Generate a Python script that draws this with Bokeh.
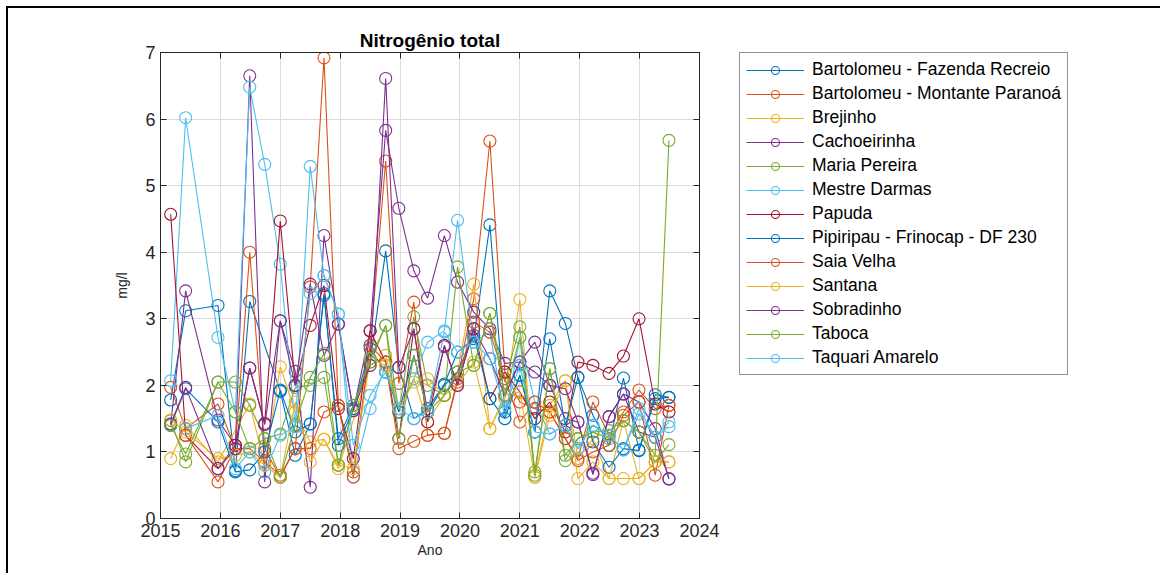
from bokeh.plotting import figure
from bokeh.models import Legend, LegendItem, LinearAxis, FixedTicker, Range1d
from bokeh.layouts import row
from bokeh.embed import file_html
from bokeh.resources import INLINE

# Datas de coleta (anos decimais)
datas = [2015.17, 2015.42, 2015.96, 2016.25, 2016.49, 2016.74, 2017.0, 2017.25, 2017.5, 2017.73,
         2017.97, 2018.22, 2018.5, 2018.76, 2018.98, 2019.23, 2019.46, 2019.74, 2019.96, 2020.23,
         2020.5, 2020.75, 2021.0, 2021.25, 2021.5, 2021.76, 2021.97, 2022.22, 2022.49, 2022.73,
         2022.99, 2023.26, 2023.49]

nomes = ["Bartolomeu - Fazenda Recreio", "Bartolomeu - Montante Paranoá", "Brejinho", "Cachoeirinha",
         "Maria Pereira", "Mestre Darmas", "Papuda", "Pipiripau - Frinocap - DF 230", "Saia Velha",
         "Santana", "Sobradinho", "Taboca", "Taquari Amarelo"]

cores = ["#0072BD", "#D95319", "#EDB120", "#7E2F8E", "#77AC30", "#4DBEEE", "#A2142F",
         "#0072BD", "#D95319", "#EDB120", "#7E2F8E", "#77AC30", "#4DBEEE"]

fazenda_recreio = [1.78, 3.12, 3.20, 0.72, 3.26, None, 1.91, 0.95, 1.42, 3.35, 1.20, 1.70, 2.35, 4.02, 2.27, 1.50, 1.65,
                   2.02, 2.50, 2.70, 4.41, 1.60, 2.15, 1.30, 3.42, 2.93, 2.12, 1.55, 1.10, 2.11, 1.03, 1.86, 1.82]
montante_paranoa = [1.97, 1.35, 1.72, 1.05, 4.00, 1.05, 0.62, 1.05, 3.48, 6.92, 1.70, 0.70, 2.60, 5.37, 2.03, 3.25, 1.25,
                    1.28, 2.10, 3.30, 5.67, 2.20, 1.75, 1.65, 1.60, 1.20, 0.90, 1.75, 1.25, 1.60, 1.93, 1.65, 1.70]
brejinho = [0.90, 1.40, 0.85, None, 1.72, 0.80, 2.28, 1.60, 1.15, 1.19, 0.75, None, 2.30, 2.45, 1.65, 2.10, 1.45,
            1.85, 2.20, 3.52, 1.35, 1.80, 3.29, 0.62, 1.70, 2.07, 0.90, 1.20, 0.60, 1.47, 0.60, 0.85, 0.85]
cachoeirinha = [1.42, 3.42, 1.48, 1.10, 6.65, 0.55, 2.97, 2.21, 0.47, 4.25, 2.92, 1.62, 2.82, 5.83, 4.66, 3.72, 3.31,
                4.25, 3.55, 3.10, 2.85, 2.33, 2.35, 2.65, 2.00, 1.50, 1.45, 0.66, 1.53, 1.87, 1.75, 1.35, 0.59]
maria_pereira = [1.47, 0.85, 2.05, 2.05, 1.70, 1.20, 1.27, 1.97, 2.00, 2.12, 0.80, 1.65, 2.35, 2.90, 1.60, 3.03, 2.00,
                 1.85, 3.78, 2.30, 3.08, 2.05, 2.88, 0.70, 2.25, 0.87, 1.20, 1.30, 1.32, 1.47, 1.30, 0.85, 1.11]
mestre_darmas = [2.07, 6.02, 2.72, 1.60, 6.48, 5.32, 3.82, 1.38, 5.29, 3.65, 3.07, 0.63, 1.65, 2.30, 1.65, 2.10, 2.65,
                 2.82, 4.48, 2.65, 2.80, 1.50, 2.72, 1.75, 1.27, 1.40, 1.05, 1.40, 1.25, 1.03, 1.57, 1.22, 1.45]
papuda = [4.57, 1.25, 0.75, 1.10, 2.26, 1.43, 4.47, 2.00, 2.90, 3.50, 1.65, 0.90, 2.82, 2.35, 1.20, 2.85, 1.45,
          2.60, 2.00, 2.85, 1.80, 2.20, 1.90, 1.50, 1.75, 1.30, 2.35, 2.30, 2.18, 2.44, 3.00, 1.72, 1.60]
pipiripau = [1.40, 1.95, 1.45, 0.70, 0.73, 1.00, 1.93, 1.30, 1.42, 3.38, 1.10, 1.65, 2.55, 2.20, 1.60, 2.45, 1.60,
             2.00, 2.20, 2.75, 1.80, 1.50, 2.15, 1.30, 2.70, 1.40, 2.12, 1.15, 0.77, 1.05, 1.02, 1.80, 1.82]
saia_velha = [None, 1.25, 0.55, 1.05, 1.05, 0.85, 0.65, 1.05, 1.05, 1.60, 1.70, 0.62, 2.60, 2.35, 1.05, 1.16, 1.25,
              1.28, 2.05, 2.95, 2.80, 2.10, 1.45, 1.75, 1.60, 1.20, 0.87, 1.00, 1.10, 1.55, 1.75, 0.65, 1.70]
santana = [1.48, 1.30, 0.90, 0.95, 1.00, 0.80, 0.62, 1.75, 0.85, 1.19, 0.80, 0.75, 2.40, 2.30, 1.65, 2.05, 2.10,
           1.85, 2.00, 2.35, 1.35, 1.85, 1.90, 0.62, 1.55, 2.07, 0.60, 0.85, 0.60, 0.60, 0.60, 0.85, 0.85]
sobradinho = [1.42, 1.97, 0.75, 1.05, 2.26, 1.41, 2.97, 2.00, 3.52, 2.45, 2.92, 1.62, 2.30, 6.61, 2.27, 2.85, 1.60,
              2.58, 2.00, 2.85, 2.40, 1.85, 2.35, 2.20, 2.00, 1.95, 1.45, 0.68, 1.53, 1.87, 1.30, 1.22, 0.60]
taboca = [1.40, 0.97, 2.05, 1.60, 1.05, 1.20, 0.62, 1.41, 2.12, 2.48, 0.80, 1.70, 2.40, 2.90, 1.20, 2.45, 1.60,
          1.85, 2.20, 2.30, 3.08, 1.85, 2.72, 0.65, 2.25, 0.95, 1.20, 1.30, 1.20, 1.47, 1.30, 0.95, 5.68]
taquari_amarelo = [None, 1.35, 1.55, 0.75, 1.00, 0.70, 1.25, 1.38, 3.38, 3.65, 3.07, 1.10, 1.85, 2.20, 1.65, 1.50, 1.60,
                   2.80, 2.50, 2.65, 2.40, 1.65, 2.30, 1.30, 1.27, 1.40, 1.05, 1.40, 1.25, 1.03, 1.65, 1.22, 1.38]

series = [fazenda_recreio, montante_paranoa, brejinho, cachoeirinha, maria_pereira, mestre_darmas, papuda,
          pipiripau, saia_velha, santana, sobradinho, taboca, taquari_amarelo]

anos_ticks = [2015, 2016, 2017, 2018, 2019, 2020, 2021, 2022, 2023, 2024]
valores_ticks = [0, 1, 2, 3, 4, 5, 6, 7]

FONT = "Liberation Sans"
AXC = "#262626"

p = figure(width=712, height=565, x_range=Range1d(2015, 2024), y_range=Range1d(0, 7),
           output_backend="svg", toolbar_location=None,
           min_border_left=152, min_border_top=44, min_border_right=21, min_border_bottom=55)

p.title.text = "Nitrogênio total"
p.title.align = "center"
p.title.text_font = FONT
p.title.text_font_size = "19px"
p.title.text_font_style = "bold"
p.title.text_color = "#000000"
p.title.offset = 0
p.title.standoff = 4

p.outline_line_color = AXC
p.outline_line_width = 1

for ax in (p.xaxis[0], p.yaxis[0]):
    ax.major_tick_in = 6
    ax.major_tick_out = 0
    ax.minor_tick_in = 0
    ax.minor_tick_out = 0
    ax.axis_line_color = AXC
    ax.major_tick_line_color = AXC
    ax.major_label_text_font = FONT
    ax.major_label_text_font_size = "18px"
    ax.major_label_text_color = AXC
    ax.axis_label_text_font = FONT
    ax.axis_label_text_font_size = "14px"
    ax.axis_label_text_font_style = "normal"
    ax.axis_label_text_color = AXC

p.xaxis[0].ticker = FixedTicker(ticks=anos_ticks)
p.yaxis[0].ticker = FixedTicker(ticks=valores_ticks)
p.xaxis[0].axis_label = "Ano"
p.yaxis[0].axis_label = "mg/l"
p.xaxis[0].major_label_standoff = 5
p.xaxis[0].axis_label_standoff = 2
p.yaxis[0].major_label_standoff = 5
p.yaxis[0].axis_label_standoff = 12

top_ax = LinearAxis(ticker=FixedTicker(ticks=anos_ticks), major_tick_in=6, major_tick_out=0,
                    minor_tick_in=0, minor_tick_out=0, major_label_text_font_size="1px",
                    major_label_text_color=None, axis_line_color=AXC, major_tick_line_color=AXC,
                    major_label_standoff=0)
right_ax = LinearAxis(ticker=FixedTicker(ticks=valores_ticks), major_tick_in=6, major_tick_out=0,
                      minor_tick_in=0, minor_tick_out=0, major_label_text_font_size="1px",
                      major_label_text_color=None, axis_line_color=AXC, major_tick_line_color=AXC,
                      major_label_standoff=0)
p.add_layout(top_ax, "above")
p.add_layout(right_ax, "right")

p.xgrid.ticker = FixedTicker(ticks=anos_ticks)
p.ygrid.ticker = FixedTicker(ticks=valores_ticks)
p.xgrid.grid_line_color = "#dcdcdc"
p.ygrid.grid_line_color = "#dcdcdc"

# Figura auxiliar só para a legenda (à direita do gráfico); as séries ficam fora do seu intervalo
pl = figure(width=440, height=565, x_range=Range1d(0, 1), y_range=Range1d(100, 101),
            output_backend="svg", toolbar_location=None, x_axis_type=None, y_axis_type=None,
            min_border_left=19, min_border_right=0, min_border_top=5, min_border_bottom=0)
pl.outline_line_color = None
pl.xgrid.visible = False
pl.ygrid.visible = False

items = []
for nome, cor, vals in zip(nomes, cores, series):
    xs = [d for d, v in zip(datas, vals) if v is not None]
    ys = [v for v in vals if v is not None]
    p.line(xs, ys, line_color=cor, line_width=1.1)
    p.scatter(xs, ys, marker="circle", size=12, fill_color=None, line_color=cor, line_width=1.1)
    lr = pl.line(xs, ys, line_color=cor, line_width=1.1)
    sr = pl.scatter(xs, ys, marker="circle", size=12, fill_color=None, line_color=cor, line_width=1.1)
    items.append(LegendItem(label=nome, renderers=[lr, sr]))

legend = Legend(items=items, location="top_left", label_text_font=FONT, label_text_font_size="17.5px",
                label_text_color="#000000", glyph_width=58, glyph_height=20, label_height=20,
                spacing=3, padding=6, margin=0, label_standoff=8,
                border_line_color=AXC, border_line_width=1, background_fill_color="white",
                background_fill_alpha=1.0)
pl.add_layout(legend, "center")

layout = row(p, pl, styles={"margin-top": "6px", "margin-left": "6px",
                            "border-top": "2px solid #000", "border-left": "2px solid #000"})

open("out.html", "w").write(file_html(layout, INLINE))
